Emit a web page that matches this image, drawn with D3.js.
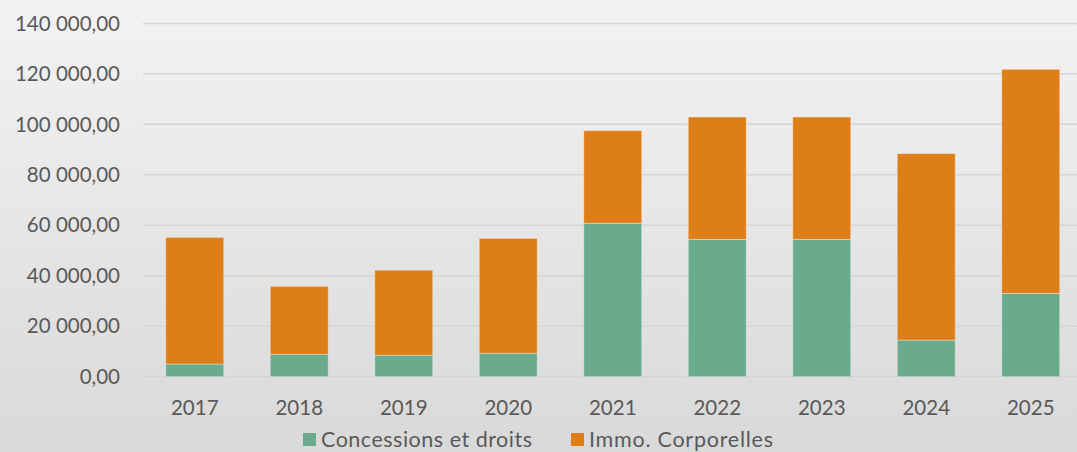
<!DOCTYPE html>
<html lang="fr">
  <head>
    <meta charset="utf-8" />
    <title>Concessions et droits / Immo. Corporelles</title>
    <script src="https://d3js.org/d3.v7.min.js"></script>
    <style type="text/css">
      body { margin: 0; }
      svg { display: block; }
      text { font-family: Lato, "Open Sans", sans-serif; fill: #595959; }
    </style>
  </head>
  <body>
    <script type="text/javascript">
      const years = ["2017", "2018", "2019", "2020", "2021", "2022", "2023", "2024", "2025"];
      const concessions = [5000, 8900, 8500, 9300, 60800, 54400, 54400, 14500, 33000];
      const corporelles = [50200, 26900, 33700, 45500, 36700, 48500, 48500, 73900, 88800];
      const yTicks = [0, 20000, 40000, 60000, 80000, 100000, 120000, 140000];
      const seriesNames = ["Concessions et droits", "Immo. Corporelles"];
      const colors = ["#6aab8e", "#dd7e18"];

      const w = 1077;
      const h = 452;

      const svg = d3.select("body").append("svg").attr("width", w).attr("height", h);

      // background gradient
      const grad = svg.append("defs").append("linearGradient")
        .attr("id", "bg").attr("x1", 0).attr("y1", 0).attr("x2", 0).attr("y2", 1);
      grad.append("stop").attr("offset", "0%").attr("stop-color", "#f3f3f3");
      grad.append("stop").attr("offset", "100%").attr("stop-color", "#d9d9d9");
      svg.append("rect").attr("width", w).attr("height", h).attr("fill", "url(#bg)");

      const xScale = d3.scaleBand()
        .domain(years)
        .range([142.5, 1083])
        .paddingInner(0.445)
        .paddingOuter(0.2225);

      const yScale = d3.scaleLinear()
        .domain([0, 140000])
        .range([376.7, 23.4]);

      const fmt = function (v) {
        return d3.format(",.2f")(v).replace(/,/g, " ").replace(".", ",");
      };

      // gridlines
      svg.append("g")
        .selectAll("line")
        .data(yTicks)
        .enter()
        .append("line")
        .attr("x1", 143)
        .attr("x2", w)
        .attr("y1", function (d) { return yScale(d); })
        .attr("y2", function (d) { return yScale(d); })
        .attr("stroke", "#d5d5d5")
        .attr("stroke-width", 1.5);

      // y labels
      svg.append("g")
        .selectAll("text")
        .data(yTicks)
        .enter()
        .append("text")
        .attr("x", 120)
        .attr("y", function (d) { return yScale(d); })
        .attr("dy", "0.35em")
        .attr("text-anchor", "end")
        .style("font-size", "20.5px")
        .text(fmt);

      // x labels
      svg.append("g")
        .selectAll("text")
        .data(years)
        .enter()
        .append("text")
        .attr("x", function (d) { return xScale(d) + xScale.bandwidth() / 2; })
        .attr("y", 415)
        .attr("text-anchor", "middle")
        .style("font-size", "20.5px")
        .text(function (d) { return d; });

      // stacked bars
      const rows = years.map(function (y, i) {
        return { year: y, a: concessions[i], b: corporelles[i] };
      });
      const stack = d3.stack().keys(["a", "b"]);
      const layers = stack(rows);

      svg.append("g")
        .selectAll("g")
        .data(layers)
        .enter()
        .append("g")
        .attr("fill", function (d, i) { return colors[i]; })
        .selectAll("rect")
        .data(function (d) { return d; })
        .enter()
        .append("rect")
        .attr("x", function (d) { return xScale(d.data.year); })
        .attr("y", function (d) { return yScale(d[1]); })
        .attr("width", xScale.bandwidth())
        .attr("height", function (d) { return yScale(d[0]) - yScale(d[1]); })
        .attr("stroke", "rgba(255,255,255,0.35)")
        .attr("stroke-width", 1);

      // legend
      const legendX = [303, 571];
      const legendLen = [211, 184];
      const legend = svg.append("g")
        .selectAll("g")
        .data(seriesNames)
        .enter()
        .append("g")
        .attr("transform", function (d, i) { return "translate(" + legendX[i] + ",433)"; });
      legend.append("rect")
        .attr("width", 13)
        .attr("height", 13)
        .attr("fill", function (d, i) { return colors[i]; });
      legend.append("text")
        .attr("x", 18)
        .attr("y", 13.5)
        .attr("textLength", function (d, i) { return legendLen[i]; })
        .attr("lengthAdjust", "spacing")
        .style("font-size", "21.5px")
        .text(function (d) { return d; });
    </script>
  </body>
</html>
